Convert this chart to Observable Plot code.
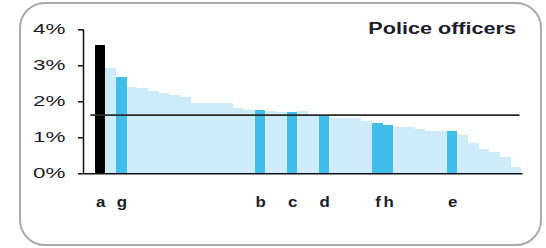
<!DOCTYPE html>
<html>
<head>
<meta charset="utf-8">
<script src="https://cdn.jsdelivr.net/npm/d3@7"></script>
<script src="https://cdn.jsdelivr.net/npm/@observablehq/plot@0.6"></script>
<style>
  body { margin: 0; background: #fff; }
  #wrap { position: relative; width: 546px; height: 248px; overflow: hidden; }
  #box { position: absolute; left: 19px; top: 2px; width: 523px; height: 244px; box-sizing: border-box;
         border: 2px solid #ababab; border-radius: 26px; pointer-events: none; }
  #chart { position: absolute; left: 0; top: 0; }
</style>
</head>
<body>
<div id="wrap"><div id="chart"></div><div id="box"></div></div>
<script>
// Share of police officers per bar (%), sorted descending
const shares = [3.56, 2.93, 2.68, 2.41, 2.36, 2.29, 2.22, 2.17, 2.11, 1.94,
                1.94, 1.94, 1.94, 1.82, 1.77, 1.77, 1.72, 1.71, 1.69, 1.72,
                1.62, 1.62, 1.53, 1.53, 1.53, 1.46, 1.41, 1.34, 1.29, 1.29,
                1.22, 1.18, 1.18, 1.18, 1.06, 0.84, 0.67, 0.60, 0.44, 0.18];
// Letter labels of highlighted bars ("" = not labelled)
const labels = ["a", "", "g", "", "", "", "", "", "", "",
                "", "", "", "", "", "b", "", "", "c", "",
                "", "d", "", "", "", "", "f", "h", "", "",
                "", "", "", "e", "", "", "", "", "", ""];
const blackLabels = ["a"];
const averageShare = 1.63;
const yTicks = [0, 1, 2, 3, 4];
const title = "Police officers";

const data = shares.map((v, i) => ({i, v, label: labels[i]}));
const base = data.filter(d => d.label === "");
const hl = data.filter(d => d.label !== "" && !blackLabels.includes(d.label));
const blk = data.filter(d => blackLabels.includes(d.label));
const labelled = data.filter(d => d.label !== "");

const xDomain = [-1.1, shares.length + 0.1];

const plot = Plot.plot({
  width: 546,
  height: 248,
  marginLeft: 83,
  marginRight: 23.5,
  marginTop: 29.3,
  marginBottom: 74.7,
  style: {fontFamily: "'Liberation Sans', Arial, sans-serif", fontSize: "14px", color: "#1c1c2c", background: "transparent"},
  x: {domain: xDomain, axis: null},
  y: {domain: [0, 4], axis: null},
  marks: [
    Plot.rectY(base, {x1: "i", x2: d => d.i + 1, y: "v", fill: "#cdebf8", shapeRendering: "crispEdges"}),
    Plot.rectY(hl, {x1: "i", x2: d => d.i + 1, y: "v", fill: "#40bde9", shapeRendering: "crispEdges"}),
    Plot.rectY(blk, {x1: "i", x2: d => d.i + 1, y: "v", fill: "#000000", shapeRendering: "crispEdges"}),
    Plot.ruleY([averageShare], {stroke: "#2a2a2a", strokeWidth: 1.6, insetLeft: 7.5, insetRight: 3}),
    Plot.ruleY([0], {stroke: "#111", strokeWidth: 1.5}),
    Plot.ruleX([xDomain[0]], {y1: 0, y2: 4, stroke: "#111", strokeWidth: 1.5}),
    Plot.axisY({ticks: yTicks, tickFormat: d => d + "%", tickSize: 5, tickPadding: 13, label: null,
                stroke: "#111", strokeWidth: 1.5, fontSize: 14}),
    Plot.text(labelled, {x: d => d.i + 0.5, text: "label", frameAnchor: "bottom", dy: 29,
                         fontWeight: "bold", fontSize: 14, lineAnchor: "middle"}),
    Plot.text([title], {frameAnchor: "top-right", dx: -7, dy: -1, fontWeight: "bold", fontSize: 16,
                        textAnchor: "end", lineAnchor: "middle"})
  ]
});
document.getElementById("chart").appendChild(plot);

// horizontal stretch of the text, as in the reference
function stretchText(t, k) {
  const len = t.getComputedTextLength();
  t.setAttribute("textLength", (len * k).toFixed(1));
  t.setAttribute("lengthAdjust", "spacingAndGlyphs");
}
plot.querySelectorAll('g[aria-label="y-axis tick label"] text').forEach(t => stretchText(t, 1.6));
plot.querySelectorAll("text").forEach(t => {
  const s = t.textContent;
  if (s === title) stretchText(t, 1.35);
  else if (labels.includes(s) && s !== "") stretchText(t, 1.2);
});
</script>
</body>
</html>
